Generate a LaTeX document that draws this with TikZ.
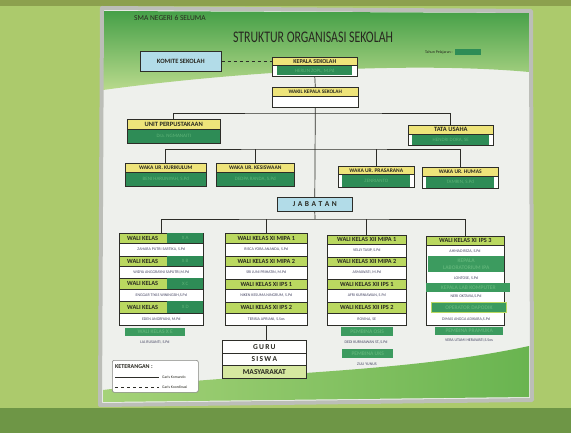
\documentclass[tikz,border=0pt]{standalone}
\usepackage{fontspec}
\setmainfont{Carlito}
\usepackage{graphicx}
\usetikzlibrary{calc}
\definecolor{wall}{RGB}{172,202,108}
\definecolor{walltop}{RGB}{140,160,78}
\definecolor{wallbot}{RGB}{110,150,70}
\definecolor{frameC}{RGB}{188,190,184}
\definecolor{boardC}{RGB}{238,240,236}
\definecolor{hgTop}{RGB}{70,160,72}
\definecolor{hgBot}{RGB}{185,218,140}
\definecolor{waveA}{RGB}{165,210,120}
\definecolor{waveB}{RGB}{105,180,80}
\definecolor{yel}{RGB}{238,228,122}
\definecolor{dg}{RGB}{46,140,86}
\definecolor{dg2}{RGB}{60,155,95}
\definecolor{fg}{RGB}{95,180,120}
\definecolor{lg}{RGB}{186,216,96}
\definecolor{lb}{RGB}{178,220,232}
\definecolor{ln}{RGB}{45,45,40}
\definecolor{tx}{RGB}{40,40,32}
\definecolor{nmc}{RGB}{70,70,100}
\begin{document}
\begin{tikzpicture}[x=1pt,y=-1pt,
  hdr/.style={draw=ln, line width=0.6pt, fill=yel, inner sep=0pt, anchor=north west, font=\bfseries\fontsize{6}{6}\selectfont, text=tx},
  wb/.style={draw=ln, line width=0.6pt, fill=white, inner sep=0pt, anchor=north west},
  gb/.style={draw=ln, line width=0.6pt, fill=dg, inner sep=0pt, anchor=north west, font=\fontsize{5}{5}\selectfont, text=fg},
  gin/.style={fill=dg, inner sep=0pt, font=\fontsize{5}{5}\selectfont, text=fg},
  lgh/.style={draw=ln, line width=0.6pt, fill=lg, inner sep=0pt, anchor=north west, font=\bfseries\fontsize{6.3}{6.3}\selectfont, text=tx},
  nm/.style={draw=ln, line width=0.5pt, fill=white, inner sep=0pt, anchor=north west, font=\fontsize{4}{4}\selectfont, text=nmc},
  gl/.style={fill=dg2, inner sep=0pt, font=\bfseries\fontsize{5.5}{5.5}\selectfont, text=fg},
  ntext/.style={inner sep=0pt, font=\fontsize{4}{4}\selectfont, text=nmc},
  conn/.style={draw=ln, line width=0.7pt}]
\useasboundingbox (0,0) rectangle (571,433);
% wall
\fill[wall] (0,0) rectangle (571,433);
\fill[walltop] (0,0) rectangle (571,6);
\fill[wallbot] (0,408) rectangle (571,433);
% board
\fill[boardC] (102,8) -- (531,11) -- (532,400) -- (100,405) -- cycle;
\shade[top color=hgTop, bottom color=hgBot] (104,11) -- (529,13) -- (529,72) .. controls (420,62) and (250,70) .. (103,90) -- cycle;
\shade[left color=waveA, right color=waveB] (103,390) .. controls (250,372) and (400,374) .. (529,346) -- (529,397) -- (103,402) -- cycle;
\draw[frameC, line width=4pt, line join=round] (102,8) -- (531,11) -- (532,400) -- (100,405) -- cycle;
% titles
\node[inner sep=0pt, anchor=west, text=tx, font=\fontsize{7.5}{7.5}\selectfont] (school) at (134,18) {SMA NEGERI 6 SELUMA};
\node[inner sep=0pt, text=tx] (title) at (313,37) {\resizebox{160pt}{10.5pt}{\fontsize{12}{12}\selectfont STRUKTUR ORGANISASI SEKOLAH}};
\node[inner sep=0pt, anchor=east, text=tx, font=\fontsize{4}{4}\selectfont] (tahun) at (453,52) {Tahun Pelajaran :};
\node[fill=dg, inner sep=0pt, minimum width=26pt, minimum height=6pt, anchor=west] (tahunbox) at (455,52) {};
% komite
\node[draw=ln, line width=0.6pt, fill=lb, inner sep=0pt, minimum width=81pt, minimum height=20pt, anchor=north west, font=\bfseries\fontsize{6.5}{6.5}\selectfont, text=tx] (komite) at (140,51) {KOMITE SEKOLAH};
% kepala
\node[hdr, minimum width=85pt, minimum height=8pt] (kphead) at (272,57) {KEPALA SEKOLAH};
\node[wb, minimum width=85pt, minimum height=11pt] (kpbody) at (272,65) {};
\node[gin, minimum width=75pt, minimum height=9pt] (kpname) at (kpbody.center) {HERLIN ZOPL, M.Pd};
\draw[conn, dashed] (komite.east) -- (komite.east -| kphead.west);
% wakil
\node[hdr, minimum width=86pt, minimum height=9pt, font=\bfseries\fontsize{5.3}{5.3}\selectfont] (wkhead) at (272,87) {WAKIL KEPALA SEKOLAH};
\node[wb, minimum width=86pt, minimum height=11pt] (wkbody) at (272,96) {};
\draw[conn] (kpbody.south) -- (wkhead.north);
% jabatan
\node[draw=ln, line width=0.6pt, fill=lb, inner sep=0pt, minimum width=75pt, minimum height=14pt, anchor=north west, font=\bfseries\fontsize{7.5}{7.5}\selectfont, text=tx] (jab) at (277,197) {J\,\,A\,\,B\,\,A\,\,T\,\,A\,\,N};
\draw[conn] (wkbody.south) -- (jab.north);
% level 1
\node[hdr, minimum width=93pt, minimum height=10pt, font=\bfseries\fontsize{6.5}{6.5}\selectfont] (uphead) at (127,119) {UNIT PERPUSTAKAAN};
\node[gb, minimum width=93pt, minimum height=14pt] (upbody) at (127,129) {Dra. NGMANAITI};
\node[hdr, minimum width=85pt, minimum height=9pt, font=\bfseries\fontsize{6.5}{6.5}\selectfont] (tuhead) at (408,125) {TATA USAHA};
\node[wb, minimum width=85pt, minimum height=11pt] (tubody) at (408,134) {};
\node[gin, minimum width=77pt, minimum height=10pt] (tuname) at (tubody.center) {HENDRI DORA, SE};
\coordinate (bar1) at (315,113);
\draw[conn] (uphead.north) |- (bar1) -| (tuhead.north);
% level 2
\node[hdr, minimum width=81pt, minimum height=9pt, font=\bfseries\fontsize{5.5}{5.5}\selectfont] (kuhead) at (125,163) {WAKA UR. KURIKULUM};
\node[gb, minimum width=81pt, minimum height=14pt] (kubody) at (125,172) {BENI HARUNIYAH, S.Pd};
\node[hdr, minimum width=78pt, minimum height=9pt, font=\bfseries\fontsize{5.5}{5.5}\selectfont] (kshead) at (216,163) {WAKA UR. KESISWAAN};
\node[gb, minimum width=78pt, minimum height=14pt] (ksbody) at (216,172) {DEDPA RANDA, S.Pd};
\node[hdr, minimum width=76pt, minimum height=8pt, font=\bfseries\fontsize{5.5}{5.5}\selectfont] (prhead) at (338,166) {WAKA UR. PRASARANA};
\node[wb, minimum width=76pt, minimum height=13pt] (prbody) at (338,174) {};
\node[gin, minimum width=68pt, minimum height=12pt] (prname) at (prbody.center) {ZENRIANTO};
\node[hdr, minimum width=76pt, minimum height=9pt, font=\bfseries\fontsize{5.5}{5.5}\selectfont] (huhead) at (422,167) {WAKA UR. HUMAS};
\node[wb, minimum width=76pt, minimum height=12pt] (hubody) at (422,176) {};
\node[gin, minimum width=68pt, minimum height=11pt] (huname) at (hubody.center) {TAMRIN, S.Pd};
\coordinate (bar2) at (315,149);
\draw[conn] (kuhead.north) |- (bar2) -| (huhead.north);
\draw[conn] (kshead.north) -- (kshead.north |- bar2);
\draw[conn] (prhead.north) -- (prhead.north |- bar2);
% column 1
\node[lgh, minimum width=84pt, minimum height=10pt] (c1h1) at (119,233) {};
\node[inner sep=0pt, anchor=west, font=\bfseries\fontsize{6.3}{6.3}\selectfont, text=tx] (c1l1) at (127,238) {WALI KELAS};
\node[fill=dg, inner sep=0pt, minimum width=36pt, minimum height=10pt, anchor=north west, font=\fontsize{5}{5}\selectfont, text=fg] (c1k1) at (167,233) {X A};
\node[nm, minimum width=84pt, minimum height=13pt] (c1n1) at (119,243) {ZAHARA PUTRI SARTIKA, S.Pd};
\node[lgh, minimum width=84pt, minimum height=10pt] (c1h2) at (119,256) {};
\node[inner sep=0pt, anchor=west, font=\bfseries\fontsize{6.3}{6.3}\selectfont, text=tx] (c1l2) at (127,261) {WALI KELAS};
\node[fill=dg, inner sep=0pt, minimum width=36pt, minimum height=10pt, anchor=north west, font=\fontsize{5}{5}\selectfont, text=fg] (c1k2) at (167,256) {X B};
\node[nm, minimum width=84pt, minimum height=12pt] (c1n2) at (119,266) {WIDYA ANGGRAYNI SAPUTRI,M.Pd};
\node[lgh, minimum width=84pt, minimum height=11pt] (c1h3) at (119,278) {};
\node[inner sep=0pt, anchor=west, font=\bfseries\fontsize{6.3}{6.3}\selectfont, text=tx] (c1l3) at (127,283.5) {WALI KELAS};
\node[fill=dg, inner sep=0pt, minimum width=36pt, minimum height=11pt, anchor=north west, font=\fontsize{5}{5}\selectfont, text=fg] (c1k3) at (167,278) {X C};
\node[nm, minimum width=84pt, minimum height=12pt] (c1n3) at (119,289) {ENGGAR TIYAS WININGSIH,S.Pd};
\node[lgh, minimum width=84pt, minimum height=12pt] (c1h4) at (119,301) {};
\node[inner sep=0pt, anchor=west, font=\bfseries\fontsize{6.3}{6.3}\selectfont, text=tx] (c1l4) at (127,307) {WALI KELAS};
\node[fill=dg, inner sep=0pt, minimum width=36pt, minimum height=12pt, anchor=north west, font=\fontsize{5}{5}\selectfont, text=fg] (c1k4) at (167,301) {X D};
\node[nm, minimum width=84pt, minimum height=12pt] (c1n4) at (119,313) {EDEN ANGRIYANI, M.Pd};
\node[gl, minimum width=60pt, minimum height=8pt, anchor=north west] (c1e) at (125,328) {WALI KELAS X E};
\node[ntext] (c1en) at (155,342) {LIA RUSANTI, S.Pd};
% column 2
\node[lgh, minimum width=82pt, minimum height=10pt] (c2h1) at (225,233) {WALI KELAS XI MIPA 1};
\node[nm, minimum width=82pt, minimum height=13pt] (c2n1) at (225,243) {RISCA YORA ANANDA, S.Pd};
\node[lgh, minimum width=82pt, minimum height=10pt] (c2h2) at (225,256) {WALI KELAS XI MIPA 2};
\node[nm, minimum width=82pt, minimum height=13pt] (c2n2) at (225,266) {SRI JUNI PRIHATIN, M.Pd};
\node[lgh, minimum width=82pt, minimum height=10pt] (c2h3) at (225,279) {WALI KELAS XI IPS 1};
\node[nm, minimum width=82pt, minimum height=13pt] (c2n3) at (225,289) {NIKEN KESUMA NINGRUM, S.Pd};
\node[lgh, minimum width=82pt, minimum height=11pt] (c2h4) at (225,302) {WALI KELAS XI IPS 2};
\node[nm, minimum width=82pt, minimum height=12pt] (c2n4) at (225,313) {TERISIA APRIANI, S.Sos};
% guru siswa masyarakat
\node[draw=ln, line width=0.7pt, fill=white, inner sep=0pt, minimum width=84pt, minimum height=12.5pt, anchor=north west, font=\bfseries\fontsize{7.5}{7.5}\selectfont, text=tx] (guru) at (222,340) {G\,U\,R\,U};
\node[draw=ln, line width=0.7pt, fill=white, inner sep=0pt, minimum width=84pt, minimum height=12.5pt, anchor=north west, font=\bfseries\fontsize{7.5}{7.5}\selectfont, text=tx] (siswa) at (222,352.5) {S\,I\,S\,W\,A};
\node[draw=ln, line width=0.7pt, fill=lg!60!white, inner sep=0pt, minimum width=84pt, minimum height=12.5pt, anchor=north west, font=\bfseries\fontsize{7.5}{7.5}\selectfont, text=tx] (masy) at (222,365) {MASYARAKAT};
\draw[conn] (c2n4.south) -- (c2n4.south |- guru.north);
% column 3
\node[lgh, minimum width=79pt, minimum height=9pt] (c3h1) at (327,235) {WALI KELAS XII MIPA 1};
\node[nm, minimum width=79pt, minimum height=13pt] (c3n1) at (327,244) {VELLY TASIP, S.Pd};
\node[lgh, minimum width=79pt, minimum height=9pt] (c3h2) at (327,257) {WALI KELAS XII MIPA 2};
\node[nm, minimum width=79pt, minimum height=13pt] (c3n2) at (327,266) {ASMAWATI, M.Pd};
\node[lgh, minimum width=79pt, minimum height=10pt] (c3h3) at (327,279) {WALI KELAS XII IPS 1};
\node[nm, minimum width=79pt, minimum height=13pt] (c3n3) at (327,289) {AFRI KURNIAWAN, S.Pd};
\node[lgh, minimum width=79pt, minimum height=11pt] (c3h4) at (327,302) {WALI KELAS XII IPS 2};
\node[nm, minimum width=79pt, minimum height=12pt] (c3n4) at (327,313) {ROVINA, SE};
\node[gl, minimum width=52pt, minimum height=9pt, anchor=north west] (osis) at (341,327) {PEMBINA OSIS};
\node[ntext] (osisn) at (366,342) {DEDI KURNIAWAN ST.,S.Pd};
\node[gl, minimum width=51pt, minimum height=9pt, anchor=north west] (uks) at (342,349) {PEMBINA UKS};
\node[ntext] (uksn) at (367,364) {ZULI YUNUS};
% column 4
\node[draw=ln, line width=0.6pt, fill=white, inner sep=0pt, minimum width=78pt, minimum height=89pt, anchor=north west] (c4f) at (426,236) {};
\node[lgh, minimum width=78pt, minimum height=9pt] (c4h1) at (426,236) {WALI KELAS XI\,\,IPS 3};
\node[ntext] (c4n1) at (465,251) {AHMAD REZA, S.Pd};
\node[gl, minimum width=76pt, minimum height=16pt, anchor=north west, align=center, font=\bfseries\fontsize{5.5}{6.5}\selectfont] (lab) at (428,256) {KEPALA\\LABORATORIUM IPA};
\node[ntext] (labn) at (466,278) {LONTOSE, S.Pd};
\node[gl, minimum width=84pt, minimum height=9pt, anchor=north west] (kom) at (426,283) {KEPALA LAB KOMPUTER};
\node[ntext] (komn) at (466,296) {NERI OKTAVIA,S.Pd};
\node[gl, draw=lg, line width=0.8pt, minimum width=75pt, minimum height=10pt, anchor=north west] (dap) at (431,302) {OPERATOR DAPODIK};
\node[ntext] (dapn) at (466,319) {DIMAS ANGGA ADIKARA,S.Pd};
\node[gl, minimum width=68pt, minimum height=8pt, anchor=north west] (pra) at (435,327) {PEMBINA PRAMUKA};
\node[ntext] (pran) at (469,340) {VERA UTAMI HERAWATI,S.Sos};
% bar 3
\coordinate (bar3) at (315,219);
\draw[conn] (jab.south) -- (bar3);
\draw[conn] (c1h1.north) |- (bar3) -| (c4h1.north);
\draw[conn] (c2h1.north) -- (c2h1.north |- bar3);
\draw[conn] (c3h1.north) -- (c3h1.north |- bar3);
% legend
\node[draw=frameC!70!black, line width=0.6pt, fill=white, rounded corners=2pt, inner sep=0pt, minimum width=86pt, minimum height=32pt, anchor=north west] (leg) at (112,360) {};
\node[inner sep=0pt, anchor=west, font=\bfseries\fontsize{6}{6}\selectfont, text=tx] (legt) at (115,367) {KETERANGAN :};
\coordinate (l1a) at (115,377);
\coordinate (l1b) at (159,377);
\coordinate (l2a) at (115,387);
\coordinate (l2b) at (159,387);
\draw[draw=ln, line width=0.5pt] (l1a) -- (l1b);
\draw[draw=ln, line width=0.5pt, dashed] (l2a) -- (l2b);
\node[inner sep=0pt, anchor=west, font=\fontsize{3.8}{3.8}\selectfont, text=tx] (lk) at (162,377) {Garis Komando};
\node[inner sep=0pt, anchor=west, font=\fontsize{3.8}{3.8}\selectfont, text=tx] (lko) at (162,387) {Garis Koordinasi};
\end{tikzpicture}
\end{document}
